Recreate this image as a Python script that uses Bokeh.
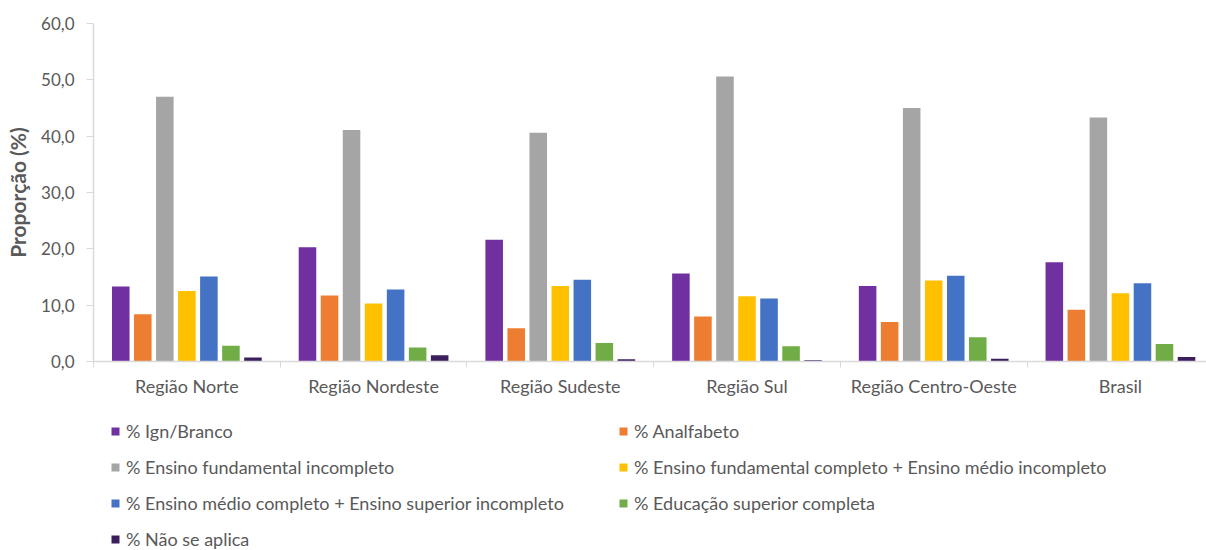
from bokeh.plotting import figure
from bokeh.layouts import column
from bokeh.models import ColumnDataSource, Range1d, FixedTicker, Legend, LegendItem, CustomJSTickFormatter
from bokeh.transform import dodge
from bokeh.embed import file_html
from bokeh.resources import INLINE

regions = ["Região Norte", "Região Nordeste", "Região Sudeste", "Região Sul", "Região Centro-Oeste", "Brasil"]
series_names = [
    "% Ign/Branco",
    "% Analfabeto",
    "% Ensino fundamental incompleto",
    "% Ensino fundamental completo + Ensino médio incompleto",
    "% Ensino médio completo + Ensino superior incompleto",
    "% Educação superior completa",
    "% Não se aplica",
]
ign_branco = [13.3, 20.3, 21.6, 15.6, 13.4, 17.6]
analfabeto = [8.4, 11.7, 5.9, 8.0, 7.0, 9.2]
fund_incompleto = [47.0, 41.1, 40.6, 50.6, 45.0, 43.3]
fund_completo = [12.5, 10.3, 13.4, 11.6, 14.4, 12.1]
medio_completo = [15.1, 12.8, 14.5, 11.2, 15.2, 13.9]
superior_completa = [2.8, 2.5, 3.3, 2.7, 4.3, 3.1]
nao_se_aplica = [0.7, 1.1, 0.4, 0.2, 0.5, 0.8]
colors = ["#7030A0", "#ED7D31", "#A5A5A5", "#FFC000", "#4472C4", "#70AD47", "#3D1E5C"]
y_ticks = [0, 10, 20, 30, 40, 50, 60]

series_values = [ign_branco, analfabeto, fund_incompleto, fund_completo,
                 medio_completo, superior_completa, nao_se_aplica]

FONT = "Lato"
TXT = "#595959"
AX = "#D9D9D9"

centers = [i + 0.5 for i in range(len(regions))]
data = {"x": centers}
keys = []
for k, vals in enumerate(series_values):
    key = f"s{k}"
    keys.append(key)
    data[key] = vals
source = ColumnDataSource(data)

p = figure(width=1206, height=408, output_backend="svg", toolbar_location=None,
           x_range=Range1d(0, 5.961), y_range=Range1d(0, 60),
           min_border_left=93, min_border_right=0, min_border_top=23, min_border_bottom=47)
p.outline_line_color = None
p.xgrid.grid_line_color = None
p.ygrid.grid_line_color = None

step = 0.118
width = 0.094
for k, key in enumerate(keys):
    p.vbar(x=dodge("x", (k - 3) * step), top=key, width=width, source=source,
           fill_color=colors[k], line_color=None)

# x axis
p.xaxis.ticker = FixedTicker(ticks=centers, minor_ticks=list(range(0, 7)))
p.xaxis.major_label_overrides = {c: r for c, r in zip(centers, regions)}
p.xaxis.major_tick_out = 0
p.xaxis.major_tick_in = 0
p.xaxis.minor_tick_out = 6
p.xaxis.minor_tick_in = 0
p.xaxis.minor_tick_line_color = AX
p.xaxis.axis_line_color = AX
p.xaxis.axis_line_width = 1.5
p.xaxis.major_label_text_font = FONT
p.xaxis.major_label_text_font_size = "18px"
p.xaxis.major_label_text_color = TXT
p.xaxis.major_label_standoff = 7

# y axis
p.yaxis.ticker = FixedTicker(ticks=y_ticks)
p.yaxis.formatter = CustomJSTickFormatter(code="return tick.toFixed(1).replace('.', ',');")
p.yaxis.major_tick_out = 7
p.yaxis.major_tick_in = 0
p.yaxis.minor_tick_line_color = None
p.yaxis.major_tick_line_color = AX
p.yaxis.axis_line_color = AX
p.yaxis.axis_line_width = 1.5
p.yaxis.major_label_text_font = FONT
p.yaxis.major_label_text_font_size = "17px"
p.yaxis.major_label_text_color = TXT
p.yaxis.major_label_standoff = 12
p.yaxis.axis_label = "Proporção (%)"
p.yaxis.axis_label_text_font = FONT
p.yaxis.axis_label_text_font_size = "21px"
p.yaxis.axis_label_text_font_style = "bold"
p.yaxis.axis_label_text_color = TXT
p.yaxis.axis_label_standoff = 8

# legend figure below (its frame is aligned with the chart's frame)
p2 = figure(width=1206, height=142, output_backend="svg", toolbar_location=None,
            x_range=Range1d(0, 1), y_range=Range1d(0, 1),
            min_border=0, min_border_left=0, min_border_right=0,
            min_border_top=0, min_border_bottom=0)
p2.axis.visible = False
p2.grid.visible = False
p2.outline_line_color = None
leg_renderers = []
for k in range(len(series_names)):
    r = p2.vbar(x=[0.5], top=[-5], bottom=[-6], width=0.1, fill_color=colors[k], line_color=None)
    leg_renderers.append(r)

items = [LegendItem(label=n, renderers=[r]) for n, r in zip(series_names, leg_renderers)]
legend = Legend(items=items, ncols=2, orientation="horizontal", location=(17, 0))
legend.border_line_color = None
legend.background_fill_alpha = 0
legend.padding = 0
legend.margin = 0
legend.spacing = 14
legend.glyph_width = 10
legend.glyph_height = 10
legend.label_standoff = 6
legend.label_width = 478
legend.label_height = 20
legend.label_text_font = FONT
legend.label_text_font_size = "18px"
legend.label_text_color = TXT
legend.label_text_baseline = "middle"
p2.add_layout(legend, "center")

layout = column(p, p2, spacing=0)
open("out.html", "w").write(file_html(layout, INLINE))
